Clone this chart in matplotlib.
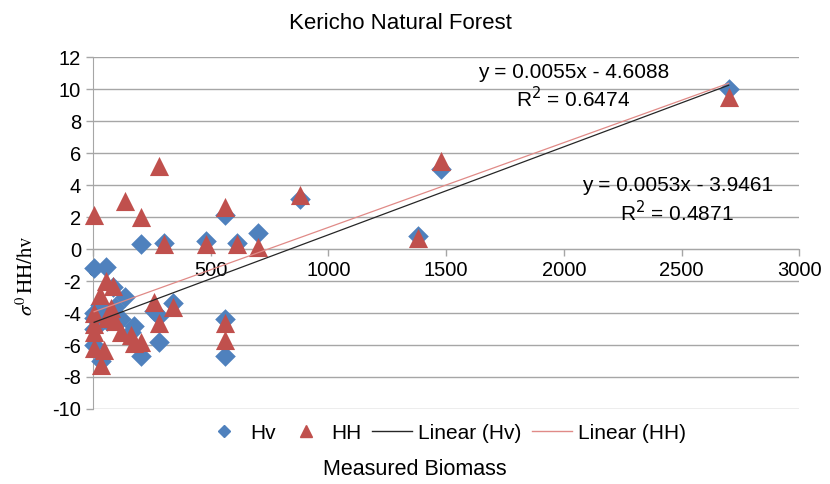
import numpy as np
import matplotlib
matplotlib.use("Agg")
import matplotlib.pyplot as plt
from matplotlib.lines import Line2D

plt.rcParams["font.family"] = ["Liberation Sans", "DejaVu Sans"]
plt.rcParams["axes.unicode_minus"] = False

# measured biomass per sample plot
biomass = [5, 55, 85, 135, 205, 280, 300, 480, 560, 610, 700, 880, 1380, 1480, 2700,
           260, 340, 280, 560, 560, 205, 175, 160, 120, 95, 75, 5, 5, 5, 5, 45, 35, 30, 60]
hv = [-1.2, -1.1, -2.4, -3.0, 0.3, -4.2, 0.4, 0.5, 2.1, 0.4, 1.0, 3.1, 0.8, 5.0, 10.0,
      -3.9, -3.4, -5.8, -4.4, -6.7, -6.7, -4.8, -5.2, -4.4, -3.6, -3.9, -4.3, -4.0, -6.0, -5.0,
      -4.4, -7.0, -3.5, -4.5]
hh = [2.1, -2.0, -2.3, 3.0, 2.0, 5.2, 0.3, 0.3, 2.6, 0.3, 0.1, 3.4, 0.7, 5.5, 9.5,
      -3.3, -3.6, -4.6, -4.6, -5.7, -5.8, -5.9, -5.4, -5.2, -4.5, -3.7, -4.0, -4.7, -5.2, -6.2,
      -6.3, -7.25, -2.9, -4.3]

# trendline coefficients as printed on the chart
hv_fit = (0.0055, -4.6088, 0.6474)
hh_fit = (0.0053, -3.9461, 0.4871)

blue = "#4F81BD"
red = "#C0504D"

fig = plt.figure(figsize=(8.3, 4.84), dpi=100)
ax = fig.add_axes([0.112, 0.155, 0.851, 0.727])

ax.scatter(biomass, hv, marker="D", s=110, color=blue, zorder=3, linewidths=0, clip_on=False)
ax.scatter(biomass, hh, marker="^", s=190, color=red, zorder=4, linewidths=0, clip_on=False)

xs = np.array([min(biomass), max(biomass)])
ax.plot(xs, hv_fit[0] * xs + hv_fit[1], color="#262626", lw=0.9, zorder=5)
ax.plot(xs, hh_fit[0] * xs + hh_fit[1], color="#E08A87", lw=0.9, zorder=5)

ax.set_xlim(0, 3000)
ax.set_ylim(-10, 12)
ax.set_xticks(np.arange(0, 3001, 500))
ax.set_yticks(np.arange(-10, 13, 2))
ax.yaxis.grid(True, color="#A6A6A6", lw=1)
ax.set_axisbelow(True)

for s in ["top", "right"]:
    ax.spines[s].set_visible(False)
ax.spines["left"].set_color("#A6A6A6")
ax.spines["bottom"].set_color("#A6A6A6")
ax.spines["bottom"].set_position(("data", 0))
ax.tick_params(axis="both", colors="#A6A6A6", labelcolor="black", labelsize=14.5,
               length=5, width=1)

ax.text(2040, 11.05, f"y = {hv_fit[0]}x - {abs(hv_fit[1])}", ha="center", va="center", fontsize=15)
ax.text(2040, 9.4, f"R$^2$ = {hv_fit[2]}", ha="center", va="center", fontsize=15)
ax.text(2482, 4.0, f"y = {hh_fit[0]}x - {abs(hh_fit[1])}", ha="center", va="center", fontsize=15)
ax.text(2482, 2.3, f"R$^2$ = {hh_fit[2]}", ha="center", va="center", fontsize=15)

fig.text(0.482, 0.952, "Kericho Natural Forest", ha="center", va="center", fontsize=16)
fig.text(0.5, 0.029, "Measured Biomass", ha="center", va="center", fontsize=15.5)
fig.text(0.032, 0.43, r"$\sigma^0\,\mathrm{HH/hv}$", rotation=90, ha="center", va="center",
         fontsize=15, math_fontfamily="stix")

handles = [
    Line2D([], [], marker="D", ls="none", color=blue, markersize=6.5),
    Line2D([], [], marker="^", ls="none", color=red, markersize=8.5),
    Line2D([], [], color="#262626", lw=1),
    Line2D([], [], color="#E08A87", lw=1),
]
fig.legend(handles, ["Hv", "HH", "Linear (Hv)", "Linear (HH)"], loc="center",
           bbox_to_anchor=(0.536, 0.105), ncol=4, frameon=False, fontsize=15,
           handlelength=1.9, columnspacing=0.5, handletextpad=0.3)

fig.savefig("out.png", dpi=100)
